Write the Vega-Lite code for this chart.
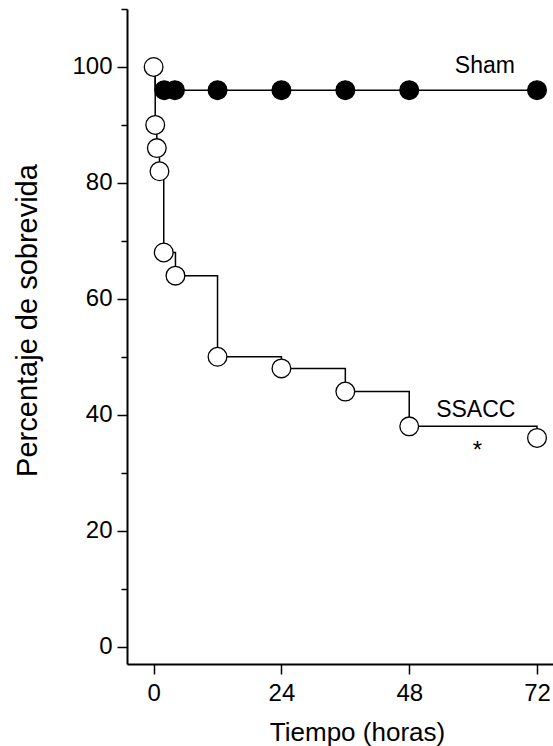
{
  "$schema": "https://vega.github.io/schema/vega-lite/v6.json",
  "width": 426,
  "height": 655,
  "autosize": {"type": "none"},
  "padding": {"left": 127, "top": 9, "right": 0, "bottom": 82},
  "background": "white",
  "config": {"view": {"stroke": null}, "font": "Liberation Sans"},
  "datasets": {
    "curves": [
      {"group": "SSACC", "t": 0, "pct": 100},
      {"group": "SSACC", "t": 0.3, "pct": 90},
      {"group": "SSACC", "t": 0.6, "pct": 86},
      {"group": "SSACC", "t": 1.1, "pct": 82},
      {"group": "SSACC", "t": 1.9, "pct": 68},
      {"group": "SSACC", "t": 4.1, "pct": 64},
      {"group": "SSACC", "t": 12, "pct": 50},
      {"group": "SSACC", "t": 24, "pct": 48},
      {"group": "SSACC", "t": 36, "pct": 44},
      {"group": "SSACC", "t": 48, "pct": 38},
      {"group": "SSACC", "t": 72, "pct": 36},
      {"group": "Sham", "t": 0, "pct": 100},
      {"group": "Sham", "t": 0.3, "pct": 96},
      {"group": "Sham", "t": 2, "pct": 96},
      {"group": "Sham", "t": 4, "pct": 96},
      {"group": "Sham", "t": 12, "pct": 96},
      {"group": "Sham", "t": 24, "pct": 96},
      {"group": "Sham", "t": 36, "pct": 96},
      {"group": "Sham", "t": 48, "pct": 96},
      {"group": "Sham", "t": 72, "pct": 96}
    ],
    "notes": [
      {"text": "Sham", "t": 62.2, "pct": 99.0},
      {"text": "SSACC", "t": 60.5, "pct": 39.6},
      {"text": "*", "t": 60.8, "pct": 32.5}
    ]
  },
  "encoding": {
    "x": {
      "field": "t",
      "type": "quantitative",
      "scale": {"domain": [-5, 75], "nice": false, "zero": false},
      "axis": {
        "values": [0, 24, 48, 72],
        "grid": false,
        "domainColor": "black",
        "domainWidth": 2,
        "tickColor": "black",
        "tickWidth": 1.5,
        "tickSize": 10,
        "labelFontSize": 24,
        "labelColor": "black",
        "labelPadding": 7,
        "labelFont": "Liberation Sans",
        "title": "Tiempo (horas)",
        "titleFont": "Liberation Sans",
        "titleFontSize": 26,
        "titleFontWeight": "normal",
        "titleColor": "black",
        "titleX": 230,
        "titleY": 76,
        "titleBaseline": "alphabetic"
      }
    },
    "y": {
      "field": "pct",
      "type": "quantitative",
      "scale": {"domain": [-3, 110], "nice": false, "zero": false},
      "axis": {
        "values": [0, 10, 20, 30, 40, 50, 60, 70, 80, 90, 100, 110],
        "labelExpr": "datum.value % 20 == 0 && datum.value <= 100 ? datum.label : ''",
        "grid": false,
        "domainColor": "black",
        "domainWidth": 2,
        "tickColor": "black",
        "tickWidth": 1.5,
        "tickSize": {"condition": {"test": "datum.value % 20 == 0 && datum.value <= 100", "value": 10}, "value": 6},
        "labelFontSize": 24,
        "labelColor": "black",
        "labelPadding": 5,
        "labelFont": "Liberation Sans",
        "title": "Percentaje de sobrevida",
        "titleFont": "Liberation Sans",
        "titleFontSize": 29,
        "titleFontWeight": "normal",
        "titleColor": "black",
        "titleAngle": -90,
        "titleX": -100,
        "titleY": 311,
        "titleBaseline": "middle",
        "titleAlign": "center"
      }
    }
  },
  "layer": [
    {
      "data": {"name": "curves"},
      "mark": {"type": "line", "interpolate": "step-after", "color": "black", "strokeWidth": 1.5},
      "encoding": {"detail": {"field": "group"}}
    },
    {
      "data": {"name": "curves"},
      "transform": [{"filter": "datum.group == 'SSACC' || datum.t >= 1"}],
      "mark": {"type": "point", "shape": "circle", "filled": true, "size": 350, "stroke": "black", "strokeWidth": 1.3, "opacity": 1},
      "encoding": {
        "fill": {"field": "group", "type": "nominal", "scale": {"domain": ["Sham", "SSACC"], "range": ["black", "white"]}, "legend": null}
      }
    },
    {
      "data": {"name": "notes"},
      "transform": [{"filter": "datum.text != '*'"}],
      "mark": {"type": "text", "fontSize": 23, "color": "black", "align": "center", "baseline": "alphabetic", "font": "Liberation Sans"},
      "encoding": {"text": {"field": "text"}}
    },
    {
      "data": {"name": "notes"},
      "transform": [{"filter": "datum.text == '*'"}],
      "mark": {"type": "text", "fontSize": 24, "color": "black", "align": "center", "baseline": "alphabetic", "font": "Liberation Sans"},
      "encoding": {"text": {"field": "text"}}
    }
  ]
}
